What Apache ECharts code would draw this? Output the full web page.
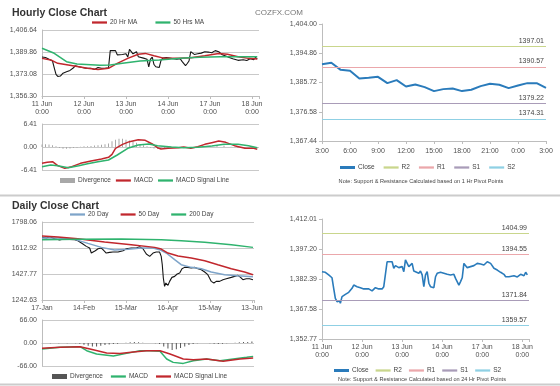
<!DOCTYPE html>
<html><head><meta charset="utf-8">
<script src="https://cdn.jsdelivr.net/npm/echarts@6/dist/echarts.min.js"></script>
<style>html,body{margin:0;padding:0;background:#fff}#c{width:560px;height:386px}</style>
</head><body><div id="c"></div><script>
// ---------- Hourly (11 Jun 0:00 .. 18 Jun 3:00), x = hour index ----------
const hourDayLabels = ['11 Jun\n0:00','12 Jun\n0:00','13 Jun\n0:00','14 Jun\n0:00','17 Jun\n0:00','18 Jun\n0:00'];
const hourCloseX = [0,2,4,5,6,7,8,9,10,10.5,11,12,13,14,16,18,19,21,23,25,26,28,30,32,34,36,37,38,39,40,42,43,44,46,48,49,50,51,52,54,55,56,58,59,60,61,62,63,64,65,66,67,68,69,71,73,75,77,79,80,82,83,84,85,87,88,89,91,93,95,97,99,100,101,103,105,106,107,109,110,112,113,115,117,119,121,122,123];
const hourCloseY = [1386.0,1385.7,1384.4,1383.5,1383.0,1377.8,1372.8,1371.2,1370.4,1371.5,1370.4,1373.7,1372.8,1374.8,1375.8,1377.8,1379.4,1378.6,1378.1,1377.5,1377.8,1377.5,1376.5,1378.1,1377.5,1377.5,1378.6,1377.8,1390.9,1391.6,1390.9,1387.7,1389.0,1388.0,1388.5,1386.0,1391.8,1392.3,1388.5,1390.1,1386.3,1386.0,1385.2,1386.3,1384.4,1378.6,1384.4,1386.0,1380.3,1378.6,1377.8,1378.1,1383.5,1385.2,1385.7,1385.2,1384.7,1384.4,1384.7,1382.7,1379.4,1381.1,1383.0,1390.1,1388.0,1387.7,1388.5,1389.0,1390.1,1389.8,1389.3,1390.9,1391.6,1390.1,1387.7,1386.8,1386.0,1385.7,1384.7,1383.5,1383.5,1383.0,1384.0,1383.4,1384.7,1384.0,1385.7,1384.4];
const ma20hX = [0,5,9,15,21,26,32,38,43,49,55,59,64,70,78,85,93,101,106,112,118,123];
const ma20hY = [1385.0,1383.8,1381.2,1379.9,1378.6,1377.4,1376.6,1377.4,1381.2,1385.0,1388.1,1388.8,1387.0,1385.0,1385.0,1385.5,1387.0,1388.8,1388.1,1386.3,1385.0,1384.5];
const ma50hX = [0,7,14,20,33,39,46,56,67,79,90,102,113,123];
const ma50hY = [1392.7,1388.9,1382.5,1380.7,1379.7,1379.9,1381.2,1383.0,1383.7,1385.0,1385.8,1386.3,1386.3,1386.3];
const macdHX = [0,3,6,9,13,17,22,28,34,38,40,42,46,50,55,59,63,66,68,72,78,81,85,89,93,97,101,105,110,116,121,123];
const macdHY = [-4.55,-4.27,-4.09,-5.20,-5.95,-5.48,-4.55,-3.90,-3.34,-2.88,-2.04,-0.37,0.74,1.49,2.04,1.86,0.84,-0.19,-0.56,-0.37,-0.19,0,-0.37,0.09,0.74,1.21,1.67,1.30,0.37,-0.37,-0.37,-0.65];
const sigHX = [0,5,9,15,21,26,32,38,43,49,55,61,66,74,81,89,97,104,112,118,123];
const sigHY = [-5.48,-5.02,-5.20,-5.76,-5.20,-4.65,-4.09,-3.62,-2.23,-0.37,0.56,0.84,0.37,0,-0.19,-0.09,0.28,0.74,0.74,0.37,-0.19];
const divHX = [0,2,4,6,8,10,12,14,16,18,20,22,24,26,28,30,32,34,36,38,40,42,44,46,48,50,52,54,56,58,60,62,64,66,68,70,72,76,80,84,88,92,96,100,104,108,112,116,120,123];
const divHY = [0.7,0.8,0.7,0.5,0.2,-0.3,-0.5,-0.5,-0.4,-0.3,-0.2,0.1,0.2,0.2,0.3,0.4,0.5,0.6,0.8,1.0,1.6,2.0,2.3,2.3,2.0,1.8,1.5,1.2,0.8,0.5,0.2,-0.2,-0.4,-0.5,-0.5,-0.4,-0.3,-0.1,0.1,-0.2,0.1,0.3,0.4,0.5,0.4,0.1,-0.3,-0.5,-0.3,-0.2];
const hourYTicks = [1356.30,1373.08,1389.86,1406.64];
const macdHTicks = [-6.41,0,6.41];

// ---------- Last 24 hours ----------
const trHours = ['3:00','4:00','5:00','6:00','7:00','8:00','9:00','10:00','11:00','12:00','13:00','14:00','15:00','16:00','17:00','18:00','19:00','20:00','21:00','22:00','23:00','0:00','1:00','2:00','3:00'];
const trClose = [1391.45,1391.87,1389.68,1389.37,1386.98,1387.19,1387.50,1385.52,1386.46,1384.48,1385.11,1384.27,1383.03,1383.65,1383.86,1383.03,1383.44,1384.59,1385.31,1385.00,1383.96,1384.79,1385.52,1385.52,1384.07];
const trYTicks = [1367.44,1376.58,1385.72,1394.86,1404.00];
const trLevels = {R2:1397.01, R1:1390.57, S1:1379.22, S2:1374.31};

// ---------- Daily (x = trading day index from 17-Jan) ----------
const dayLabels = ['17-Jan','14-Feb','15-Mar','16-Apr','15-May','13-Jun'];
const dailyX = [0,2.1,3.7,6,8.4,10.8,13.2,15.6,17.1,17.9,19.5,21.1,22.7,23.5,24.3,25.4,26.7,28.3,29.5,30.6,32.2,33.8,36.2,38.6,40.2,42.5,44.9,46.5,48.1,49.7,51.3,52.9,54.4,55.2,56,56.8,57.3,57.8,58.4,59,60,60.8,61.9,63.2,64.4,65.6,66.7,67.9,69.5,71.1,72.7,74.3,75.9,77.5,79,79.8,80.6,81.9,83,84.6,86.2,87.8,90.2,91.7,93.3,94.6,95.7,97.3,98.9,100.5];
const dailyY = [1688.6,1683.9,1693.4,1679.2,1669.7,1679.2,1674.4,1672.0,1664.9,1655.4,1641.2,1624.5,1612.7,1577.1,1565.2,1593.7,1607.9,1612.7,1593.7,1577.1,1581.8,1584.2,1584.2,1593.7,1607.9,1612.7,1612.7,1622.2,1607.9,1570.0,1553.3,1577.1,1584.2,1593.7,1584.2,1553.3,1494.0,1399.1,1339.7,1363.5,1346.8,1375.3,1403.8,1410.9,1427.6,1434.7,1465.5,1475.0,1475.0,1470.3,1475.0,1465.5,1458.4,1441.8,1422.8,1399.1,1375.3,1363.5,1375.3,1375.3,1387.2,1394.3,1403.8,1410.9,1418.0,1403.8,1387.2,1394.3,1394.3,1387.2];
const ma20dX = [0,7.6,15.6,21.9,28.3,34.6,41,47.3,52.9,56,59.2,63.2,66.3,71.1,75.9,80.6,87,93.3,100.5];
const ma20dY = [1683.9,1683.9,1674.4,1645.9,1617.4,1598.5,1603.2,1612.7,1612.7,1600.8,1577.1,1529.6,1494.0,1475.0,1465.5,1441.8,1422.8,1415.7,1408.6];
const ma50dX = [0,7.6,17.1,29.8,42.5,53.7,56.8,60,64.8,71.1,77.5,83.8,90.2,96.5,100.5];
const ma50dY = [1698.2,1691.0,1679.2,1655.4,1636.4,1617.4,1605.6,1577.1,1555.7,1541.5,1522.5,1494.0,1465.5,1441.8,1422.8];
const ma200dX = [0,17.1,37.8,56.8,66.3,77.5,90.2,100.5];
const ma200dY = [1672.0,1674.4,1676.8,1672.0,1664.9,1653.0,1636.4,1617.4];
const macdDX = [0,8.6,18.1,21.3,26,34,40.3,46.7,51.4,56.2,59.4,62.5,67.3,72.1,78.4,84.8,91.1,97.5,100.6];
const macdDY = [-17.3,-12.5,-10.6,-22.1,-31.7,-37.4,-29.8,-22.1,-22.1,-24.0,-46.0,-55.6,-58.5,-50.8,-46.0,-50.8,-46.0,-41.2,-38.4];
const sigDX = [0,8.6,18.1,22.9,30.8,37.1,43.5,49.8,56.2,61,67.3,72.1,78.4,86.3,94.3,100.6];
const sigDY = [-15.4,-12.5,-10.6,-17.3,-28.8,-29.8,-25.9,-22.1,-22.1,-31.7,-46.0,-47.9,-46.0,-52.7,-46.0,-43.1];
const divDX = [0,4,8,12,16,18,20,22,24,26,28,30,32,34,36,38,40,42,44,46,48,50,52,54,56,58,60,62,64,66,68,70,72,74,76,78,80,82,84,86,88,90,92,94,96,98,100];
const divDY = [-1,-1,-1,-1,-1,-2,-5,-8,-10,-10,-8,-6,-4,-3,-2,0,1,2,3,2,1,0,0,-1,-3,-10,-16,-20,-18,-14,-10,-6,-3,-1,0,0,-1,-2,-3,-2,-1,0,1,2,3,3,4];
const dailyYTicks = [1242.63,1427.77,1612.92,1798.06];
const macdDTicks = [-66,0,66];

// ---------- 24 Hr pivot panel ----------
const brYTicks = [1352.77,1367.58,1382.39,1397.20,1412.01];
const brLevels = {R2:1404.99, R1:1394.55, S1:1371.84, S2:1359.57};

// ---------- helpers ----------
const FONT = '"Liberation Sans", Arial, sans-serif';
const pairs = (xs, ys) => xs.map((x, i) => [x, ys[i]]);
const comma = v => { const s = Math.abs(v).toFixed(2).split('.'); return (v < 0 ? '-' : '') + s[0].replace(/\B(?=(\d{3})+(?!\d))/g, ',') + '.' + s[1]; };
const nearest = (ticks, v) => ticks.reduce((a, b) => Math.abs(b - v) < Math.abs(a - v) ? b : a);
const lbl = {fontSize: 7, color: '#505050', fontFamily: FONT};
const RED = '#c1272d', GREEN = '#2fb36e', BLUE20 = '#7ea4c9', CLOSE = '#2a7bbb';
const LV = {R2: '#c9d68c', R1: '#eba7ab', S1: '#a99cb8', S2: '#8fd0e4'};
const GRIDC = '#c9c9c9';
const LINE_ICON = 'path://M0,0H20V3H0Z';
const THICK_ICON = 'path://M0,0H20V4H0Z';

function yAx(gi, ticks, fmt, opts) {
  const min = ticks[0], max = ticks[ticks.length - 1];
  return Object.assign({
    type: 'value', gridIndex: gi, min: min, max: max,
    interval: +((max - min) / (ticks.length - 1)).toFixed(4),
    axisLabel: Object.assign({}, lbl, {margin: 5, formatter: v => fmt(nearest(ticks, v))}),
    axisLine: {show: true, lineStyle: {color: '#bdbdbd'}},
    axisTick: {show: false},
    splitLine: {show: true, lineStyle: {color: GRIDC}}
  }, opts || {});
}
function xVal(gi, max, step, labels, show) {
  return {
    type: 'value', gridIndex: gi, min: 0, max: max, interval: step, show: show,
    axisLabel: Object.assign({}, lbl, {lineHeight: 8, margin: 4,
      formatter: v => (v % step === 0 && labels[v / step]) ? labels[v / step] : ''}),
    axisLine: {show: true, lineStyle: {color: '#bdbdbd'}},
    axisTick: {show: true, length: 3, lineStyle: {color: '#bdbdbd'}},
    splitLine: {show: false}
  };
}
const line = (name, xi, data, color, w, z) => ({name, type: 'line', xAxisIndex: xi, yAxisIndex: xi, data,
  symbol: 'none', lineStyle: {color, width: w}, itemStyle: {color}, z: z || 3});
function level(name, xi, value, color) {
  return {name, type: 'line', xAxisIndex: xi, yAxisIndex: xi, data: [], symbol: 'none',
    lineStyle: {color, width: 1}, itemStyle: {color},
    markLine: {silent: true, symbol: ['none', 'none'], animation: false,
      lineStyle: {color, width: 1.2, type: 'solid'},
      label: {position: 'insideEndTop', distance: 2, formatter: p => p.value.toFixed(2), fontSize: 7, color: '#444', fontFamily: FONT},
      data: [{yAxis: value}]}};
}
function legend(left, top, names, gap) {
  return {left, top, orient: 'horizontal', itemWidth: 15, itemHeight: 5, itemGap: gap, selectedMode: false,
    padding: 0, textStyle: {fontSize: 6.5, color: '#444', fontFamily: FONT, padding: [0, 0, 0, -2]},
    formatter: n => n.split('|')[0],
    data: names.map(n => ({name: n, icon: n.indexOf('Divergence') === 0 ? 'rect' : (n.indexOf('Close') === 0 ? THICK_ICON : LINE_ICON)}))};
}
const gridBase = {containLabel: false, outerBoundsMode: 'none'};

const option = {
  animation: false,
  textStyle: {fontFamily: FONT},
  title: [
    {text: 'Hourly Close Chart', left: 7, top: 3, textStyle: {fontSize: 10.5, fontWeight: 'bold', color: '#333', fontFamily: FONT}},
    {text: 'COZFX.COM', left: 250, top: 4, textStyle: {fontSize: 8, fontWeight: 'normal', color: '#777', fontFamily: FONT}},
    {text: 'Daily Close Chart', left: 7, top: 196, textStyle: {fontSize: 10.5, fontWeight: 'bold', color: '#333', fontFamily: FONT}}
  ],
  graphic: [
    {type: 'line', shape: {x1: 0, y1: 195.5, x2: 560, y2: 195.5}, style: {stroke: '#cccccc', lineWidth: 2}},
    {type: 'line', shape: {x1: 0, y1: 384.5, x2: 560, y2: 384.5}, style: {stroke: '#cccccc', lineWidth: 2}},
    {type: 'text', style: {x: 421, y: 181, text: 'Note: Support & Resistance Calculated based on 1 Hr Pivot Points', align: 'center', verticalAlign: 'middle', fontSize: 5.6, fill: '#444', fontFamily: FONT}},
    {type: 'text', style: {x: 422, y: 379, text: 'Note: Support & Resistance Calculated based on 24 Hr Pivot Points', align: 'center', verticalAlign: 'middle', fontSize: 5.6, fill: '#444', fontFamily: FONT}}
  ],
  legend: [
    legend(92, 19, ['20 Hr MA', '50 Hrs MA'], 18),
    legend(60, 177, ['Divergence|h', 'MACD|h', 'MACD Signal Line|h'], 5),
    legend(340, 164, ['Close|t', 'R2|t', 'R1|t', 'S1|t', 'S2|t'], 9),
    legend(70, 211, ['20 Day', '50 Day', '200 Day'], 12),
    legend(52, 373, ['Divergence|d', 'MACD|d', 'MACD Signal Line|d'], 8),
    legend(334, 367, ['Close|b', 'R2|b', 'R1|b', 'S1|b', 'S2|b'], 7)
  ],
  grid: [
    Object.assign({left: 42, top: 30, width: 217, height: 66}, gridBase),
    Object.assign({left: 42, top: 124, width: 217, height: 46}, gridBase),
    Object.assign({left: 322, top: 24, width: 224, height: 117}, gridBase),
    Object.assign({left: 42, top: 222, width: 212, height: 78}, gridBase),
    Object.assign({left: 42, top: 320, width: 212, height: 46}, gridBase),
    Object.assign({left: 322, top: 219, width: 207, height: 120}, gridBase)
  ],
  xAxis: [
    xVal(0, 124, 24, hourDayLabels, true),
    xVal(1, 124, 24, hourDayLabels, false),
    {type: 'category', gridIndex: 2, data: trHours, boundaryGap: false,
      axisLabel: Object.assign({}, lbl, {interval: 2, margin: 7}),
      axisLine: {lineStyle: {color: '#bdbdbd'}}, axisTick: {interval: 2, length: 3, lineStyle: {color: '#bdbdbd'}}},
    xVal(3, 101, 20, dayLabels, true),
    xVal(4, 101, 20, dayLabels, false),
    xVal(5, 124, 24, hourDayLabels, true)
  ],
  yAxis: [
    yAx(0, hourYTicks, comma),
    yAx(1, macdHTicks, v => v.toFixed(2)),
    yAx(2, trYTicks, comma, {splitLine: {show: false}, axisTick: {show: true, length: 3, lineStyle: {color: '#bdbdbd'}}}),
    yAx(3, dailyYTicks, v => v.toFixed(2)),
    yAx(4, macdDTicks, v => v.toFixed(2)),
    yAx(5, brYTicks, comma, {splitLine: {show: false}, axisTick: {show: true, length: 3, lineStyle: {color: '#bdbdbd'}}})
  ],
  series: [
    line('Hourly', 0, pairs(hourCloseX, hourCloseY), '#151515', 1.1, 2),
    line('20 Hr MA', 0, pairs(ma20hX, ma20hY), RED, 1.5),
    line('50 Hrs MA', 0, pairs(ma50hX, ma50hY), GREEN, 1.5),
    {name: 'Divergence|h', type: 'bar', xAxisIndex: 1, yAxisIndex: 1, data: pairs(divHX, divHY), barWidth: 1, itemStyle: {color: '#a8a8a8'}},
    line('MACD|h', 1, pairs(macdHX, macdHY), RED, 1.5),
    line('MACD Signal Line|h', 1, pairs(sigHX, sigHY), GREEN, 1.5),
    line('Close|t', 2, trClose, CLOSE, 2),
    level('R2|t', 2, trLevels.R2, LV.R2),
    level('R1|t', 2, trLevels.R1, LV.R1),
    level('S1|t', 2, trLevels.S1, LV.S1),
    level('S2|t', 2, trLevels.S2, LV.S2),
    line('Daily', 3, pairs(dailyX, dailyY), '#151515', 1.1, 2),
    line('20 Day', 3, pairs(ma20dX, ma20dY), BLUE20, 1.5),
    line('50 Day', 3, pairs(ma50dX, ma50dY), RED, 1.5),
    line('200 Day', 3, pairs(ma200dX, ma200dY), GREEN, 1.5),
    {name: 'Divergence|d', type: 'bar', xAxisIndex: 4, yAxisIndex: 4, data: pairs(divDX, divDY), barWidth: 1, itemStyle: {color: '#555'}},
    line('MACD|d', 4, pairs(macdDX, macdDY), GREEN, 1.5),
    line('MACD Signal Line|d', 4, pairs(sigDX, sigDY), RED, 1.5),
    line('Close|b', 5, pairs(hourCloseX, hourCloseY), CLOSE, 1.6),
    level('R2|b', 5, brLevels.R2, LV.R2),
    level('R1|b', 5, brLevels.R1, LV.R1),
    level('S1|b', 5, brLevels.S1, LV.S1),
    level('S2|b', 5, brLevels.S2, LV.S2)
  ]
};
const chart = echarts.init(document.getElementById('c'));
chart.setOption(option);
</script></body></html>
